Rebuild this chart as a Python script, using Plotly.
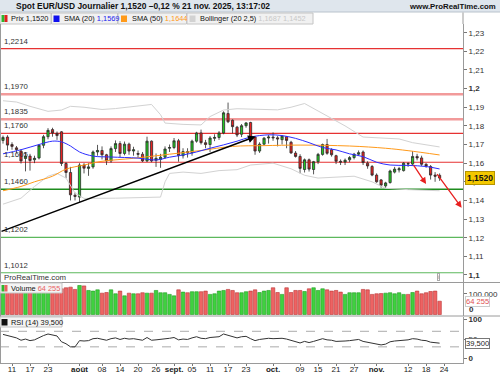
import plotly.graph_objects as go

W, H = 500, 375
def px(x): return x / W
def py(y): return 1 - y / H

# ---------------- data ----------------
jul = [9,10,11,14,15,16,17,18,21,22,23,24,25,28,29,30,31]
aug = [1,4,5,6,7,8,11,12,13,14,15,18,19,20,21,22,25,26,27,28,29]
sep = [1,2,3,4,5,8,9,10,11,12,15,16,17,18,19,22,23,24,25,26,29,30]
octo = [1,2,3,6,7,8,9,10,13,14,15,16,17,20,21,22,23,24,27,28,29,30,31]
nov = [3,4,5,6,7,10,11,12,13,14,17,18,19,20,21]
dates = ([f"2025-07-{d:02d}" for d in jul] + [f"2025-08-{d:02d}" for d in aug] +
         [f"2025-09-{d:02d}" for d in sep] + [f"2025-10-{d:02d}" for d in octo] +
         [f"2025-11-{d:02d}" for d in nov])

opens = [1.1722,1.1740,1.1700,1.1682,1.1665,1.1625,1.1638,1.1618,1.1628,1.1696,
         1.1742,1.1780,1.1760,1.1768,1.1598,1.1550,1.1428,1.1418,1.1590,1.1572,
         1.1580,1.1660,1.1668,1.1645,1.1612,1.1678,1.1705,1.1652,1.1702,1.1665,
         1.1652,1.1648,1.1612,1.1718,1.1615,1.1620,1.1632,1.1680,1.1684,1.1720,
         1.1640,1.1662,1.1656,1.1718,1.1762,1.1710,1.1700,1.1733,1.1738,1.1762,
         1.1866,1.1830,1.1793,1.1755,1.1801,1.1818,1.1740,1.1665,1.1702,1.1735,
         1.1740,1.1736,1.1726,1.1742,1.1712,1.1654,1.1636,1.1566,1.1618,1.1566,
         1.1608,1.1647,1.1700,1.1672,1.1640,1.1610,1.1606,1.1618,1.1630,1.1648,
         1.1660,1.1600,1.1582,1.1536,1.1510,1.1478,1.1496,1.1552,1.1564,1.1560,
         1.1598,1.1595,1.1636,1.1628,1.1594,1.1582,1.1536,1.1535]
highs = [1.1748,1.1750,1.1712,1.1692,1.1675,1.1660,1.1650,1.1640,1.1702,1.1752,
         1.1788,1.1790,1.1770,1.1772,1.1605,1.1580,1.1442,1.1600,1.1600,1.1600,
         1.1668,1.1698,1.1690,1.1650,1.1690,1.1722,1.1718,1.1716,1.1710,1.1688,
         1.1668,1.1660,1.1742,1.1722,1.1652,1.1650,1.1690,1.1700,1.1735,1.1730,
         1.1680,1.1680,1.1726,1.1768,1.1780,1.1725,1.1745,1.1755,1.1772,1.1878,
         1.1925,1.1835,1.1800,1.1810,1.1820,1.1822,1.1745,1.1712,1.1740,1.1752,
         1.1765,1.1745,1.1750,1.1745,1.1720,1.1665,1.1648,1.1625,1.1625,1.1612,
         1.1655,1.1705,1.1730,1.1680,1.1645,1.1620,1.1625,1.1638,1.1655,1.1668,
         1.1668,1.1610,1.1590,1.1545,1.1515,1.1500,1.1565,1.1580,1.1580,1.1605,
         1.1605,1.1665,1.1650,1.1640,1.1600,1.1590,1.1552,1.1545]
lows = [1.1705,1.1668,1.1672,1.1655,1.1598,1.1556,1.1560,1.1600,1.1620,1.1680,
        1.1728,1.1742,1.1725,1.1585,1.1520,1.1400,1.1400,1.1392,1.1545,1.1532,
        1.1570,1.1640,1.1620,1.1590,1.1602,1.1660,1.1632,1.1642,1.1645,1.1640,
        1.1630,1.1606,1.1606,1.1605,1.1580,1.1575,1.1625,1.1660,1.1675,1.1608,
        1.1625,1.1630,1.1640,1.1710,1.1700,1.1680,1.1660,1.1718,1.1725,1.1755,
        1.1815,1.1760,1.1740,1.1740,1.1790,1.1730,1.1645,1.1655,1.1695,1.1705,
        1.1720,1.1690,1.1700,1.1680,1.1650,1.1630,1.1545,1.1550,1.1555,1.1540,
        1.1595,1.1640,1.1645,1.1635,1.1595,1.1590,1.1590,1.1605,1.1620,1.1640,
        1.1590,1.1570,1.1530,1.1495,1.1468,1.1468,1.1490,1.1545,1.1550,1.1555,
        1.1580,1.1590,1.1615,1.1585,1.1575,1.1512,1.1500,1.1505]
closes = [1.1738,1.1697,1.1690,1.1673,1.1612,1.1638,1.1614,1.1626,1.1696,1.1742,
          1.1776,1.1762,1.1748,1.1598,1.1550,1.1430,1.1422,1.1590,1.1573,1.1580,
          1.1660,1.1668,1.1645,1.1612,1.1678,1.1705,1.1652,1.1702,1.1665,1.1672,
          1.1648,1.1612,1.1718,1.1612,1.1626,1.1632,1.1676,1.1684,1.1720,1.1640,
          1.1662,1.1656,1.1718,1.1762,1.1710,1.1700,1.1735,1.1738,1.1762,1.1870,
          1.1822,1.1796,1.1751,1.1801,1.1816,1.1737,1.1665,1.1702,1.1734,1.1740,
          1.1736,1.1730,1.1745,1.1722,1.1655,1.1636,1.1572,1.1618,1.1568,1.1608,
          1.1647,1.1700,1.1653,1.1645,1.1610,1.1606,1.1616,1.1630,1.1648,1.1656,
          1.1603,1.1585,1.1536,1.1500,1.1482,1.1494,1.1558,1.1568,1.1570,1.1600,
          1.1596,1.1636,1.1628,1.1594,1.1585,1.1536,1.1530,1.1520]

volumes = [135000,134000,124000,116000,116000,129000,124000,116000,108000,113000,
           103000,116000,119000,124000,129000,132000,121000,140000,138000,116000,
           113000,119000,103000,106000,119000,100000,113000,90000,103000,100000,
           100000,105000,103000,103000,116000,105000,105000,97000,90000,119000,
           108000,105000,110000,110000,110000,113000,97000,100000,113000,116000,
           121000,116000,105000,105000,110000,113000,119000,106000,113000,116000,
           129000,106000,97000,129000,106000,116000,116000,111000,124000,129000,
           116000,124000,119000,113000,116000,108000,97000,105000,105000,105000,
           121000,119000,97000,100000,101000,103000,105000,100000,105000,97000,
           97000,106000,113000,100000,105000,111000,113000,64255]

rsi = [62,58,56,53,47,50,46,48,54,59,
       63,61,58,43,38,30,30,46,45,46,
       51,52,49,47,51,53,49,52,50,51,
       49,47,54,47,48,49,51,52,54,48,
       50,49,53,56,52,51,54,55,56,63,
       59,56,53,56,57,51,46,49,51,52,
       51,51,52,50,46,44,40,44,41,44,
       47,51,48,47,44,44,45,46,48,49,
       44,42,39,37,35,37,43,45,46,48,
       48,51,50,47,46,42,41,39.5]

sma20_dates = ["2025-07-09","2025-07-15","2025-07-21","2025-07-24","2025-07-28","2025-07-30",
               "2025-08-01","2025-08-06","2025-08-12","2025-08-20","2025-08-26","2025-08-29",
               "2025-09-03","2025-09-08","2025-09-11","2025-09-16","2025-09-19","2025-09-24",
               "2025-09-30","2025-10-03","2025-10-08","2025-10-13","2025-10-16","2025-10-21",
               "2025-10-24","2025-10-29","2025-11-03","2025-11-06","2025-11-12","2025-11-18",
               "2025-11-21"]
sma20_vals = [1.1650,1.1672,1.1700,1.1718,1.1714,1.1692,1.1660,1.1638,1.1633,1.1627,
              1.1617,1.1632,1.1644,1.1660,1.1680,1.1698,1.1718,1.1740,1.1752,1.1748,
              1.1733,1.1710,1.1684,1.1671,1.1650,1.1635,1.1605,1.1590,1.1588,1.1582,1.1569]

sma50_dates = ["2025-07-09","2025-07-15","2025-07-18","2025-07-24","2025-07-29","2025-08-04",
               "2025-08-08","2025-08-19","2025-08-29","2025-09-09","2025-09-18","2025-09-29",
               "2025-10-09","2025-10-24","2025-11-05","2025-11-12","2025-11-21"]
sma50_vals = [1.1452,1.1475,1.1500,1.1530,1.1568,1.1590,1.1610,1.1626,1.1648,1.1668,
              1.1690,1.1694,1.1697,1.1692,1.1680,1.1667,1.1644]

bbu_dates = ["2025-07-09","2025-07-14","2025-07-17","2025-07-23","2025-07-28","2025-07-30",
             "2025-08-04","2025-08-08","2025-08-13","2025-08-20","2025-08-25","2025-08-27",
             "2025-08-28","2025-09-03","2025-09-09","2025-09-11","2025-09-16","2025-09-19",
             "2025-09-26","2025-10-02","2025-10-07","2025-10-10","2025-10-15","2025-10-20",
             "2025-10-23","2025-10-29","2025-11-04","2025-11-10","2025-11-13","2025-11-18",
             "2025-11-21"]
bbu_vals = [1.1935,1.1928,1.1905,1.1878,1.1885,1.1905,1.1900,1.1888,1.1893,1.1905,
            1.1915,1.1860,1.1815,1.1808,1.1805,1.1850,1.1885,1.1892,1.1888,1.1886,
            1.1900,1.1920,1.1880,1.1840,1.1800,1.1740,1.1733,1.1730,1.1710,1.1700,1.1687]

bbl_dates = ["2025-07-09","2025-07-15","2025-07-18","2025-07-23","2025-07-25","2025-07-29",
             "2025-07-31","2025-08-04","2025-08-13","2025-08-20","2025-08-27","2025-08-28",
             "2025-08-29","2025-09-03","2025-09-09","2025-09-15","2025-09-19","2025-09-24",
             "2025-10-01","2025-10-07","2025-10-10","2025-10-15","2025-10-21","2025-10-27",
             "2025-10-31","2025-11-05","2025-11-12","2025-11-18","2025-11-21"]
bbl_vals = [1.1380,1.1412,1.1475,1.1530,1.1545,1.1520,1.1440,1.1411,1.1412,1.1414,
            1.1418,1.1500,1.1545,1.1552,1.1545,1.1560,1.1565,1.1590,1.1600,1.1570,
            1.1535,1.1520,1.1525,1.1530,1.1500,1.1465,1.1458,1.1455,1.1452]

levels = [1.2214, 1.1970, 1.1835, 1.1760, 1.1605, 1.1460, 1.1202, 1.1012]
level_labels = ["1,2214", "1,1970", "1,1835", "1,1760", "1,1605", "1,1460", "1,1202", "1,1012"]
level_colors = ["#e63232", "#f29a9a", "#f29a9a", "#e63232", "#e63232", "#1e8c1e", "#5cb85c", "#5cb85c"]
level_widths = [1.2, 2.5, 2.5, 1.2, 1.2, 1.5, 1.2, 1.2]

price_ticks = [1.10,1.11,1.12,1.13,1.14,1.15,1.16,1.17,1.18,1.19,1.20,1.21,1.22,1.23]
price_ticktext = ["<b>1,1</b>","1,11","1,12","1,13","1,14","1,15","1,16","1,17","1,18","1,19",
                  "<b>1,2</b>","1,21","1,22","1,23"]

x_tickvals = ["2025-07-11","2025-07-17","2025-07-23","2025-08-01","2025-08-08","2025-08-14",
              "2025-08-20","2025-08-26","2025-09-01","2025-09-05","2025-09-11","2025-09-17",
              "2025-09-23","2025-10-01","2025-10-09","2025-10-15","2025-10-21","2025-10-27",
              "2025-11-03","2025-11-12","2025-11-18","2025-11-24"]
x_ticktext = ["11","17","23","<b>août</b>","08","14","20","26","<b>sept.</b>","05","11","17",
              "23","<b>oct.</b>","09","15","21","27","<b>nov.</b>","12","18","24"]

# ---------------- figure ----------------
inc = [c >= o for o, c in zip(opens, closes)]
vol_fill = ["#3fd13f" if u else "#ee6363" for u in inc]
vol_edge = ["#1f9a1f" if u else "#b83232" for u in inc]

fig = go.Figure()
fig.add_trace(go.Scatter(x=bbu_dates, y=bbu_vals, mode="lines", line=dict(color="#d2d2d2", width=1),
                         hoverinfo="skip"))
fig.add_trace(go.Scatter(x=bbl_dates, y=bbl_vals, mode="lines", line=dict(color="#d2d2d2", width=1),
                         hoverinfo="skip"))
fig.add_trace(go.Scatter(x=sma50_dates, y=sma50_vals, mode="lines", line=dict(color="#ff9a1a", width=1),
                         line_shape="spline", hoverinfo="skip"))
fig.add_trace(go.Scatter(x=sma20_dates, y=sma20_vals, mode="lines", line=dict(color="#2d2dff", width=1),
                         line_shape="spline", hoverinfo="skip"))
fig.add_trace(go.Candlestick(
    x=dates, open=opens, high=highs, low=lows, close=closes,
    increasing=dict(fillcolor="#22c822", line=dict(color="#2b2b2b", width=0.8)),
    decreasing=dict(fillcolor="#e82222", line=dict(color="#2b2b2b", width=0.8)),
    whiskerwidth=0, hoverinfo="skip"))
fig.add_trace(go.Bar(x=dates, y=volumes, marker=dict(color=vol_fill, line=dict(color=vol_edge, width=0.6)),
                     yaxis="y2", hoverinfo="skip"))
fig.add_trace(go.Scatter(x=dates, y=rsi, mode="lines", line=dict(color="#333333", width=1),
                         yaxis="y3", hoverinfo="skip"))

shapes = []
# header bar
shapes.append(dict(type="rect", xref="paper", yref="paper", x0=0, x1=1, y0=py(12), y1=1,
                   fillcolor="#dfe6ed", line=dict(width=0), layer="below"))
shapes.append(dict(type="line", xref="paper", yref="paper", x0=0, x1=1, y0=py(12), y1=py(12),
                   line=dict(color="#b9c3cc", width=1)))
# right axis line through legend row
shapes.append(dict(type="line", xref="paper", yref="paper", x0=px(463), x1=px(463), y0=py(24), y1=py(12.5),
                   line=dict(color="#9a9a9a", width=1)))
# legend boxes
for x0, x1 in [(0, 51), (51.5, 117.5), (118, 186.5), (187, 313)]:
    shapes.append(dict(type="rect", xref="paper", yref="paper", x0=px(x0), x1=px(x1), y0=py(24), y1=py(13),
                       fillcolor="#f1f1f1", line=dict(color="#c4c4c4", width=1)))
# legend icons
shapes.append(dict(type="rect", xref="paper", yref="paper", x0=px(1.5), x1=px(4.5), y0=py(22), y1=py(15),
                   fillcolor="#2db82d", line=dict(width=0)))
shapes.append(dict(type="rect", xref="paper", yref="paper", x0=px(4.5), x1=px(7.5), y0=py(22), y1=py(15),
                   fillcolor="#e02020", line=dict(width=0)))
for x0, col in [(53.5, "#1010ee"), (121, "#ff9a1a"), (189.5, "#d2d2d2")]:
    shapes.append(dict(type="rect", xref="paper", yref="paper", x0=px(x0), x1=px(x0 + 6), y0=py(22), y1=py(15.5),
                       fillcolor=col, line=dict(width=0)))
# level lines
for lv, col, wd in zip(levels, level_colors, level_widths):
    shapes.append(dict(type="line", xref="paper", yref="y", x0=0, x1=px(463), y0=lv, y1=lv,
                       line=dict(color=col, width=wd), layer="below"))
# panel separators
for yy in [282.5, 316]:
    shapes.append(dict(type="line", xref="paper", yref="paper", x0=0, x1=1, y0=py(yy), y1=py(yy),
                       line=dict(color="#9a9a9a", width=1)))
shapes.append(dict(type="line", xref="paper", yref="paper", x0=px(0.5), x1=px(0.5), y0=py(363), y1=py(24),
                   line=dict(color="#9a9a9a", width=1)))
# RSI 70/30
for lv in [70, 30]:
    shapes.append(dict(type="line", xref="paper", yref="y3", x0=0, x1=px(463), y0=lv, y1=lv,
                       line=dict(color="#aaaaaa", width=1, dash="dash"), layer="below"))
# bottom legend boxes
for y0, y1 in [(283, 293), (317, 327)]:
    shapes.append(dict(type="rect", xref="paper", yref="paper", x0=0, x1=px(62), y0=py(y1), y1=py(y0),
                       fillcolor="#f4f4f4", line=dict(color="#c4c4c4", width=1)))
shapes.append(dict(type="rect", xref="paper", yref="paper", x0=px(1.5), x1=px(4.5), y0=py(291.5), y1=py(285),
                   fillcolor="#2db82d", line=dict(width=0)))
shapes.append(dict(type="rect", xref="paper", yref="paper", x0=px(4.5), x1=px(7.5), y0=py(291.5), y1=py(285),
                   fillcolor="#e86060", line=dict(width=0)))
shapes.append(dict(type="rect", xref="paper", yref="paper", x0=px(1.5), x1=px(7.5), y0=py(325.5), y1=py(319),
                   fillcolor="#111111", line=dict(width=0)))

ann = []
F = "Liberation Sans"
ann.append(dict(xref="paper", yref="paper", x=px(14), y=py(6.5), xanchor="left", yanchor="middle",
                text="<b>Spot EUR/USD Journalier 1,1520 \u20130,12 % 21 nov. 2025, 13:17:02</b>",
                showarrow=False, font=dict(family=F, size=8.45, color="#111")))
ann.append(dict(xref="paper", yref="paper", x=px(498), y=py(6.5), xanchor="right", yanchor="middle",
                text="<b>www.ProRealTime.com</b>", showarrow=False, font=dict(family=F, size=7.8, color="#111")))
leg = [(9, "Prix 1,1520"),
       (61.5, "SMA (20) <span style='color:#1a1aee'>1,1569</span>"),
       (129.5, "SMA (50) <span style='color:#ff9a1a'>1,1644</span>"),
       (198, "Bollinger (20 2,5) <span style='color:#c8c8c8'>1,1687 1,1452</span>")]
for x0, t in leg:
    ann.append(dict(xref="paper", yref="paper", x=px(x0), y=py(18.7), xanchor="left", yanchor="middle",
                    text=t, showarrow=False, font=dict(family=F, size=7.4, color="#111")))
for lv, lab in zip(levels, level_labels):
    ann.append(dict(xref="paper", yref="y", x=px(2), y=lv, xanchor="left", yanchor="bottom", yshift=1,
                    text=lab, showarrow=False, font=dict(family=F, size=7.8, color="#333")))
ann.append(dict(xref="paper", yref="paper", x=px(2), y=py(277.5), xanchor="left", yanchor="middle",
                text="ProRealTime.com", showarrow=False, font=dict(family=F, size=7.8, color="#333")))
ann.append(dict(xref="paper", yref="paper", x=px(438.5), y=py(276.5), xanchor="center", yanchor="middle",
                text="i", showarrow=False, font=dict(family=F, size=6, color="#888"),
                bordercolor="#aaa", borderwidth=1, borderpad=0, bgcolor="white"))
ann.append(dict(xref="paper", yref="paper", x=px(9), y=py(288), xanchor="left", yanchor="middle",
                text="Volume <span style='color:#e86060'>64 255</span>", showarrow=False,
                font=dict(family=F, size=7.4, color="#111")))
ann.append(dict(xref="paper", yref="paper", x=px(9), y=py(322), xanchor="left", yanchor="middle",
                text="RSI (14) 39,500", showarrow=False, font=dict(family=F, size=7.4, color="#111")))
# price marker
ann.append(dict(xref="paper", yref="y", x=px(464.5), y=closes[-1], xanchor="left", yanchor="middle",
                text="<b>1,1520</b>", showarrow=False, font=dict(family=F, size=8.5, color="#111"),
                bgcolor="#f3c800", bordercolor="#b59400", borderwidth=1, borderpad=1))
ann.append(dict(xref="paper", yref="y2", x=px(464.5), y=volumes[-1], xanchor="left", yanchor="middle",
                text="64 255", showarrow=False, font=dict(family=F, size=7.6, color="#e05050"),
                bgcolor="white", bordercolor="#cccccc", borderwidth=1, borderpad=0))
ann.append(dict(xref="paper", yref="paper", x=px(467), y=py(309.5), xanchor="left", yanchor="middle",
                text="<b>0</b>", showarrow=False, font=dict(family=F, size=8, color="#333")))
ann.append(dict(xref="paper", yref="y3", x=px(464.5), y=rsi[-1], xanchor="left", yanchor="middle",
                text="39,500", showarrow=False, font=dict(family=F, size=7.6, color="#222"),
                bgcolor="white", bordercolor="#777", borderwidth=1, borderpad=0))
# trend line and arrows
ann.append(dict(xref="x", yref="y", axref="x", ayref="y", x="2025-09-25 02:24", y=1.1743,
                ax="2025-07-08 08:00", ay=1.1231, text="", showarrow=True, arrowhead=2, arrowsize=1,
                arrowwidth=1.5, arrowcolor="black"))
ann.append(dict(xref="x", yref="y", axref="x", ayref="y", x="2025-11-18 00:00", y=1.1488,
                ax="2025-11-13 00:00", ay=1.1598, text="", showarrow=True, arrowhead=2, arrowsize=1,
                arrowwidth=1.3, arrowcolor="#e82020"))
ann.append(dict(xref="x", yref="y", axref="x", ayref="y", x="2025-11-27 21:36", y=1.1361,
                ax="2025-11-20 04:48", ay=1.1549, text="", showarrow=True, arrowhead=2, arrowsize=1,
                arrowwidth=1.3, arrowcolor="#e82020"))

axis_common = dict(showgrid=False, zeroline=False, showline=True, linecolor="#9a9a9a", linewidth=1,
                   ticks="outside", ticklen=3, tickcolor="#777", side="right", anchor="x",
                   tickfont=dict(family=F, size=8, color="#333"))

fig.update_layout(
    width=W, height=H, margin=dict(l=0, r=0, t=0, b=0, autoexpand=False),
    paper_bgcolor="white", plot_bgcolor="white", showlegend=False,
    font=dict(family=F, size=8, color="#333"),
    boxgap=0.3, bargap=0.22,
    xaxis=dict(domain=[0, px(463)], anchor="y3", type="date",
               range=["2025-07-08 08:00", "2025-11-28 04:48"],
               rangebreaks=[dict(bounds=["sat", "mon"])],
               rangeslider=dict(visible=False),
               tickvals=x_tickvals, ticktext=x_ticktext, tickangle=0,
               ticks="outside", ticklen=2, tickcolor="#777", ticklabelstandoff=-4,
               showline=True, linecolor="#9a9a9a", linewidth=1, showgrid=False, zeroline=False,
               tickfont=dict(family=F, size=8, color="#222")),
    yaxis=dict(domain=[py(282), py(24)], range=[1.09624, 1.23466],
               tickvals=price_ticks, ticktext=price_ticktext, **axis_common),
    yaxis2=dict(domain=[py(315.5), py(283)], range=[-4800, 152000],
                tickvals=[100000], ticktext=["100 000"], **axis_common),
    yaxis3=dict(domain=[py(363), py(316.5)], range=[-11.5, 108],
                tickvals=[0, 50, 100], ticktext=["<b>0</b>", "50", "<b>100</b>"], **axis_common),
    shapes=shapes, annotations=ann,
)

fig.write_html("out.html", config={"displayModeBar": False},
               post_script="document.body.style.margin='0';document.body.style.padding='0';")
